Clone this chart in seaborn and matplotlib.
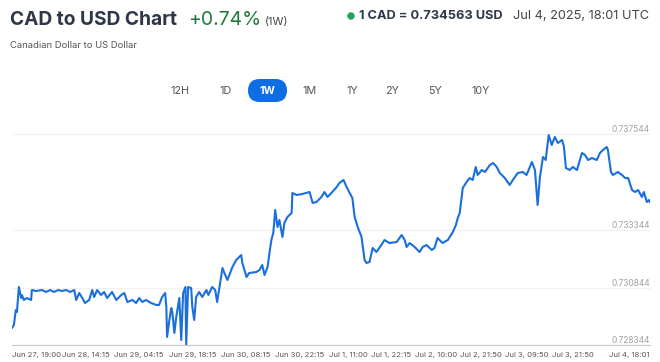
import numpy as np
import pandas as pd
import matplotlib.pyplot as plt
import seaborn as sns
from matplotlib.patches import FancyBboxPatch, Circle
from matplotlib.transforms import IdentityTransform

# hours after Jun 27 19:00 UTC and the CAD->USD rate
hours = [0.0, 0.5, 1.0, 1.3, 1.8, 2.4, 2.6, 3.1, 3.9, 5.0, 5.2, 6.3, 7.9, 8.9, 10.0, 11.0,
         12.1, 13.1, 14.2, 15.2, 16.3, 16.8, 17.6, 18.4, 19.1, 20.2, 21.0, 21.5, 22.3, 23.3,
         24.1, 24.9, 26.2, 27.3, 28.6, 29.4, 30.2, 31.5, 32.5, 33.3, 34.1, 35.1, 36.4, 37.8,
         38.5, 39.3, 40.1, 40.4, 40.6, 41.2, 41.7, 42.0, 42.5, 43.0, 43.8, 44.3, 44.8, 45.4,
         45.6, 46.1, 46.9, 47.2, 47.7, 48.2, 49.0, 49.8, 50.9, 51.4, 52.4, 53.2, 53.7, 55.1,
         55.6, 56.4, 57.7, 58.7, 60.0, 60.3, 61.4, 62.1, 64.0, 64.8, 65.5, 66.1, 66.9, 67.4,
         67.9, 68.4, 68.9, 69.5, 70.0, 70.8, 71.3, 72.1, 73.2, 73.4, 74.5, 76.0, 77.9, 78.7,
         79.7, 81.0, 81.8, 82.6, 83.6, 85.0, 85.7, 86.8, 87.6, 88.4, 89.1, 89.7, 90.5, 91.5,
         92.3, 92.8, 93.6, 94.4, 95.4, 96.7, 97.5, 98.8, 100.7, 102.0, 102.8, 103.3, 104.1,
         105.4, 106.7, 107.5, 108.5, 109.9, 110.6, 111.4, 112.7, 114.1, 115.4, 116.2, 116.7,
         117.2, 118.0, 119.0, 119.8, 120.6, 121.4, 121.9, 123.0, 123.8, 125.1, 125.9, 126.9,
         127.7, 129.0, 130.3, 131.1, 132.4, 133.7, 134.7, 136.1, 136.9, 137.6, 138.2, 139.0,
         139.7, 140.5, 141.3, 142.1, 142.9, 144.0, 144.5, 145.0, 146.0, 146.8, 147.9, 149.2,
         150.0, 150.8, 151.8, 153.1, 153.9, 154.7, 155.7, 156.0, 156.8, 157.3, 158.6, 159.7,
         160.5, 161.3, 162.3, 163.1, 163.9, 164.9, 165.4, 166.2, 166.7, 167.02]
rate = [0.729085, 0.729216, 0.729870, 0.729783, 0.730873, 0.730393, 0.730524, 0.730306,
        0.730393, 0.730306, 0.730742, 0.730698, 0.730742, 0.730655, 0.730742, 0.730655,
        0.730742, 0.730698, 0.730742, 0.730655, 0.730742, 0.730306, 0.730611, 0.730393,
        0.730175, 0.730306, 0.730742, 0.730437, 0.730742, 0.730524, 0.730655, 0.730393,
        0.730655, 0.730306, 0.730524, 0.730611, 0.730219, 0.730306, 0.730175, 0.730393,
        0.730219, 0.730306, 0.730175, 0.730088, 0.730088, 0.730437, 0.730611, 0.730001,
        0.728693, 0.729434, 0.729957, 0.729739, 0.728868, 0.729565, 0.730393, 0.728562,
        0.730611, 0.730873, 0.728344, 0.730873, 0.730829, 0.730001, 0.729434, 0.730437,
        0.730655, 0.730437, 0.730742, 0.730524, 0.730873, 0.730742, 0.730219, 0.731701,
        0.731484, 0.731178, 0.731745, 0.732050, 0.732268, 0.731919, 0.731309, 0.731484,
        0.731527, 0.731614, 0.731832, 0.731396, 0.731745, 0.732355, 0.732922, 0.733227,
        0.734230, 0.733489, 0.733794, 0.733053, 0.733663, 0.733925, 0.734099, 0.734971,
        0.734884, 0.734928, 0.735015, 0.734535, 0.734579, 0.734797, 0.735015, 0.734797,
        0.734971, 0.735233, 0.735407, 0.735538, 0.735233, 0.734971, 0.734753, 0.733925,
        0.733489, 0.733053, 0.732050, 0.731919, 0.731963, 0.732573, 0.732399, 0.732704,
        0.732922, 0.732791, 0.732835, 0.733140, 0.732922, 0.732617, 0.732791, 0.732617,
        0.732399, 0.732617, 0.732704, 0.732486, 0.732573, 0.733009, 0.732791, 0.732922,
        0.733271, 0.733576, 0.733881, 0.734099, 0.735189, 0.735451, 0.735625, 0.735538,
        0.736105, 0.735756, 0.735974, 0.735887, 0.736192, 0.736279, 0.736105, 0.735843,
        0.735625, 0.735320, 0.735538, 0.735843, 0.735887, 0.735756, 0.736323, 0.735974,
        0.734448, 0.735669, 0.736541, 0.736410, 0.737500, 0.737064, 0.737413, 0.737151,
        0.737282, 0.736977, 0.736061, 0.735974, 0.736105, 0.735974, 0.736715, 0.736628,
        0.736410, 0.736497, 0.736410, 0.736715, 0.736846, 0.736977, 0.736846, 0.735887,
        0.735756, 0.735887, 0.735756, 0.735625, 0.735625, 0.735102, 0.735015, 0.735102,
        0.734797, 0.735015, 0.734579, 0.734666, 0.734563]

tick_times = ['2025-06-27 19:00', '2025-06-28 14:15', '2025-06-29 04:15', '2025-06-29 18:15',
              '2025-06-30 08:15', '2025-06-30 22:15', '2025-07-01 11:00', '2025-07-01 22:15',
              '2025-07-02 10:00', '2025-07-02 21:50', '2025-07-03 09:50', '2025-07-03 21:50',
              '2025-07-04 18:01']
tick_labels = ['Jun 27, 19:00', 'Jun 28, 14:15', 'Jun 29, 04:15', 'Jun 29, 18:15',
               'Jun 30, 08:15', 'Jun 30, 22:15', 'Jul 1, 11:00', 'Jul 1, 22:15',
               'Jul 2, 10:00', 'Jul 2, 21:50', 'Jul 3, 09:50', 'Jul 3, 21:50', 'Jul 4, 18:01']
y_ticks = [0.728344, 0.730844, 0.733344, 0.737544]
ranges = ['12H', '1D', '1W', '1M', '1Y', '2Y', '5Y', '10Y']

start = pd.Timestamp('2025-06-27 19:00')
df = pd.DataFrame({'time': start + pd.to_timedelta(hours, unit='h'), 'rate': rate})

sns.set_style('white')
plt.rcParams['font.family'] = ['Inter', 'DejaVu Sans']

W, H = 660, 362
fig = plt.figure(figsize=(W / 100, H / 100), dpi=100)
ax = fig.add_axes([12 / W, 1 - 345 / H, 638 / W, 225 / H])

sns.lineplot(data=df, x='time', y='rate', ax=ax, color='#1a6fdc', linewidth=1.5)

ax.set_xlim(start, pd.Timestamp('2025-07-04 18:01'))
ax.set_ylim(0.728344, 0.738154)
ax.set_xlabel('')
ax.set_ylabel('')

ax.set_xticks(pd.to_datetime(tick_times))
ax.set_xticklabels(tick_labels)
ax.tick_params(axis='x', length=3, width=0.7, color='#aaaaaa', pad=2,
               labelsize=5.5, labelcolor='#555555')
xl = ax.get_xticklabels()
xl[0].set_ha('left')
xl[-1].set_ha('right')

ax.yaxis.tick_right()
ax.set_yticks(y_ticks)
ax.set_yticklabels([f'{v:.6f}' for v in y_ticks])
ax.tick_params(axis='y', length=0, pad=0, labelsize=6, labelcolor='#a0a0a0')
for t in ax.get_yticklabels():
    t.set_ha('right')
    t.set_va('bottom')
ax.grid(axis='y', color='#f0f0f0', linewidth=0.8)
ax.grid(axis='x', visible=False)

sns.despine(ax=ax, left=True, right=True, top=True)
ax.spines['bottom'].set_color('#c8c8c8')
ax.spines['bottom'].set_linewidth(0.8)


def px(x, y):
    return x / W, 1 - y / H


# header
fig.text(*px(10, 25), 'CAD to USD Chart', fontsize=13.8, fontweight='bold',
         color='#2d3748', va='baseline')
fig.text(*px(188, 25), '+0.74%', fontsize=14, color='#1e7b3d', va='baseline')
fig.text(*px(265, 25), '(1W)', fontsize=8, color='#444444', va='baseline')
fig.text(*px(10, 45), 'Canadian Dollar to US Dollar', fontsize=6.8, color='#555555', va='center')

fig.patches.append(Circle((351, H - 16), 3, transform=IdentityTransform(),
                          color='#22a35a', figure=fig))
fig.text(*px(359, 16), '1 CAD = 0.734563 USD', fontsize=9.2, fontweight='bold',
         color='#2d3748', va='center')
fig.text(*px(513, 16), 'Jul 4, 2025, 18:01 UTC', fontsize=9.2, color='#444444', va='center')

# range buttons
btn_x = [180, 226, 267, 310, 352, 392, 435, 481]
fig.patches.append(FancyBboxPatch((248, H - 102), 39, 23,
                                  boxstyle='round,pad=0,rounding_size=11.5',
                                  transform=IdentityTransform(), fc='#0e6de3', ec='none',
                                  figure=fig))
for lab, bx in zip(ranges, btn_x):
    if lab == '1W':
        fig.text(*px(bx, 90.5), lab, fontsize=7.8, fontweight='bold', color='white',
                 ha='center', va='center')
    else:
        fig.text(*px(bx, 90.5), lab, fontsize=7.8, color='#555555', ha='center', va='center')

fig.savefig('out.png', dpi=100)
